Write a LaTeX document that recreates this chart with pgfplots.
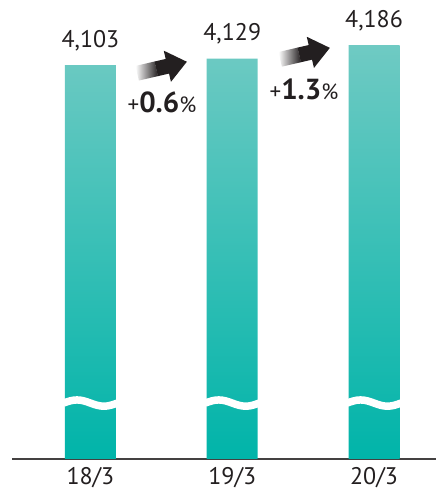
\documentclass[border=0pt]{standalone}
\usepackage{pgfplots}
\pgfplotsset{compat=1.18}
\usepackage{fontspec}
\setmainfont{PT Sans}
\definecolor{txt}{HTML}{231F20}
\definecolor{bartop}{HTML}{6FCAC3}
\definecolor{barbot}{HTML}{00B4A9}
\begin{document}
\begin{tikzpicture}[x=1pt,y=1pt]
\path[use as bounding box] (0,0) rectangle (436,491);
\begin{axis}[
  at={(12pt,32pt)}, anchor=south west,
  scale only axis, width=424pt, height=459pt,
  xmin=-0.553, xmax=2.437,
  ymin=2467.9, ymax=4372.8,
  y coord trafo/.code={\pgfmathparse{#1-2467.9}},
  y coord inv trafo/.code={\pgfmathparse{#1+2467.9}},
  axis x line*=bottom, axis y line=none,
  axis line style={draw=txt!85, line width=1.3pt},
  xtick={0,1,2}, xticklabels={18/3,19/3,20/3},
  major tick length=0pt,
  xticklabel style={anchor=base, yshift=-26pt, font=\fontsize{24}{26}\selectfont, text=txt},
]
\addplot[ybar, bar width=51pt, draw=none, top color=bartop, bottom color=barbot,
  point meta=explicit symbolic, nodes near coords,
  every node near coord/.append style={anchor=base, yshift=18pt, font=\fontsize{24}{26}\selectfont, text=txt}]
  table[meta=label] {
x y label
0 4103 4,103
1 4129 4,129
2 4186 4,186
};
\draw[white, line width=7.5pt] (axis cs:-0.19,2700) sin (axis cs:-0.095,2713) cos (axis cs:0,2700) sin (axis cs:0.095,2687) cos (axis cs:0.19,2700);
\draw[white, line width=7.5pt] (axis cs:0.81,2700) sin (axis cs:0.905,2713) cos (axis cs:1,2700) sin (axis cs:1.095,2687) cos (axis cs:1.19,2700);
\draw[white, line width=7.5pt] (axis cs:1.81,2700) sin (axis cs:1.905,2713) cos (axis cs:2,2700) sin (axis cs:2.095,2687) cos (axis cs:2.19,2700);
\end{axis}
\begin{scope}[shift={(162,423.5)}, rotate=13]
\fill[txt] (-6,-7.5) -- (5.5,-7.5) -- (5.5,-16) -- (25.5,0) -- (5.5,16) -- (5.5,7.5) -- (-6,7.5) -- cycle;
\shade[left color=white, right color=txt] (-25.5,-7.5) rectangle (-5.8,7.5);
\end{scope}
\begin{scope}[shift={(305,437.4)}, rotate=13]
\fill[txt] (-6,-7.5) -- (5.5,-7.5) -- (5.5,-16) -- (25.5,0) -- (5.5,16) -- (5.5,7.5) -- (-6,7.5) -- cycle;
\shade[left color=white, right color=txt] (-25.5,-7.5) rectangle (-5.8,7.5);
\end{scope}
\node[anchor=base, text=txt, inner sep=0pt] at (162,378) {\fontsize{23}{24}\selectfont +\textbf{\fontsize{29}{30}\selectfont 0.6}{\fontsize{22}{24}\selectfont\%}};
\node[anchor=base, text=txt, inner sep=0pt] at (304,391) {\fontsize{23}{24}\selectfont +\textbf{\fontsize{29}{30}\selectfont 1.3}{\fontsize{22}{24}\selectfont\%}};
\end{tikzpicture}
\end{document}
